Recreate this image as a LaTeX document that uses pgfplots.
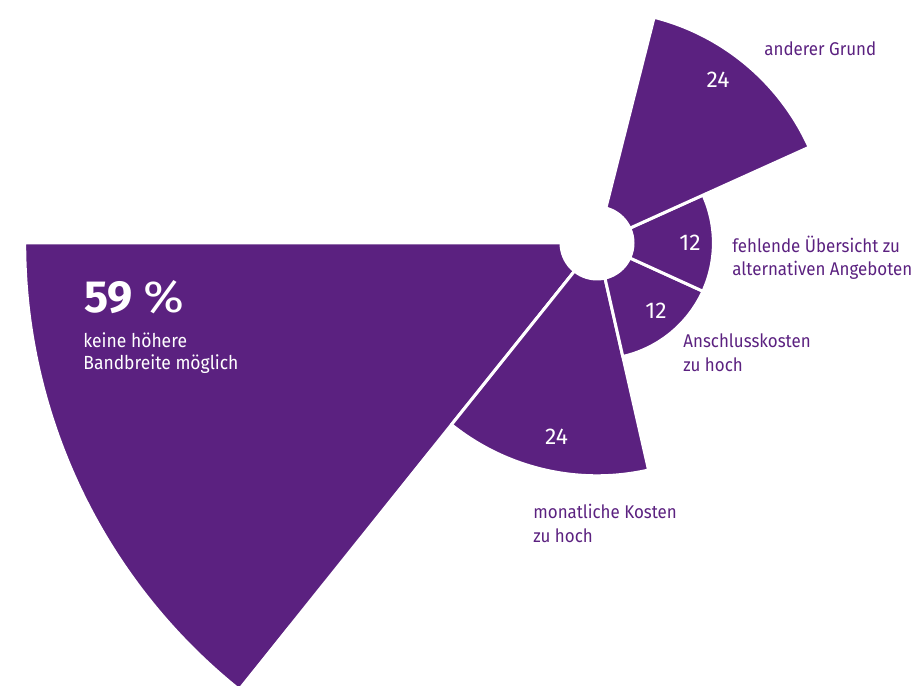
\documentclass[border=0pt]{standalone}
\usepackage{pgfplots}
\pgfplotsset{compat=1.18}
\usepackage{pgfplotstable}
\usepackage{fontspec}
\setmainfont{Fira Sans}
\newfontfamily\labelfont[FakeStretch=0.92]{Fira Sans}
\newfontfamily\pctfont[FakeStretch=1.1]{Fira Sans}
\definecolor{lila}{RGB}{91,33,128}

% start angle, end angle (degrees), value (= radius in axis units)
\pgfplotstableread{
start end value
180.0 231.3 59
231.3 282.8 24
282.8 335.5 12
335.5 384.3 12
384.3 435.8 24
}\slices

\begin{document}
\begin{tikzpicture}
\begin{axis}[
  x=4.85pt, y=4.85pt,
  xmin=-61.546, xmax=33.196, ymin=-45.567, ymax=25.052,
  hide axis, scale only axis, clip=true,
  anchor=south west, at={(0,0)},
]
\pgfplotsinvokeforeach{0,...,4}{
  \pgfplotstablegetelem{#1}{start}\of\slices \let\slStart\pgfplotsretval
  \pgfplotstablegetelem{#1}{end}\of\slices \let\slEnd\pgfplotsretval
  \pgfplotstablegetelem{#1}{value}\of\slices \let\slVal\pgfplotsretval
  \edef\slCmd{\noexpand\fill[lila, draw=white, line width=1.5pt, line join=round]
    (axis cs:0,0) -- (axis cs:{\slVal*cos(\slStart)},{\slVal*sin(\slStart)})
    arc[start angle=\slStart, end angle=\slEnd, radius=\slVal*4.85pt] -- cycle;}
  \slCmd
}
\fill[white] (axis cs:0,0) circle[radius=18.75pt];
\end{axis}
\begin{scope}[x=0.5pt, y=-0.5pt, yshift=342.5pt]
  % big label
  \node[anchor=base west, inner sep=0pt, text=white, font=\fontsize{22.5}{24}\selectfont] at (84,313) {\textbf{59}\hspace{5pt}{\pctfont\%}};
  \node[anchor=base west, inner sep=0pt, text=white, font=\labelfont\fontsize{9.5}{12}\selectfont] at (83,348) {keine höhere};
  \node[anchor=base west, inner sep=0pt, text=white, font=\labelfont\fontsize{9.5}{12}\selectfont] at (83,370) {Bandbreite möglich};
  % values
  \begin{scope}[every node/.style={anchor=base, inner sep=0pt, text=white, font=\fontsize{11.4}{13}\selectfont}]
    \node at (718,88) {24};
    \node at (690,251) {12};
    \node at (656,319) {12};
    \node at (556.5,445) {24};
  \end{scope}
  % outside labels
  \begin{scope}[every node/.style={anchor=base west, inner sep=0pt, text=lila, font=\labelfont\fontsize{9.2}{11}\selectfont}]
    \node at (764,56) {anderer Grund};
    \node at (732,253) {fehlende Übersicht zu};
    \node at (732,276) {alternativen Angeboten};
    \node at (683,348) {Anschlusskosten};
    \node at (683,372) {zu hoch};
    \node at (533,518) {monatliche Kosten};
    \node at (533,542) {zu hoch};
  \end{scope}
\end{scope}
\pgfresetboundingbox
\path[use as bounding box] (0,0) rectangle (459.5pt,342.5pt);
\end{tikzpicture}
\end{document}
